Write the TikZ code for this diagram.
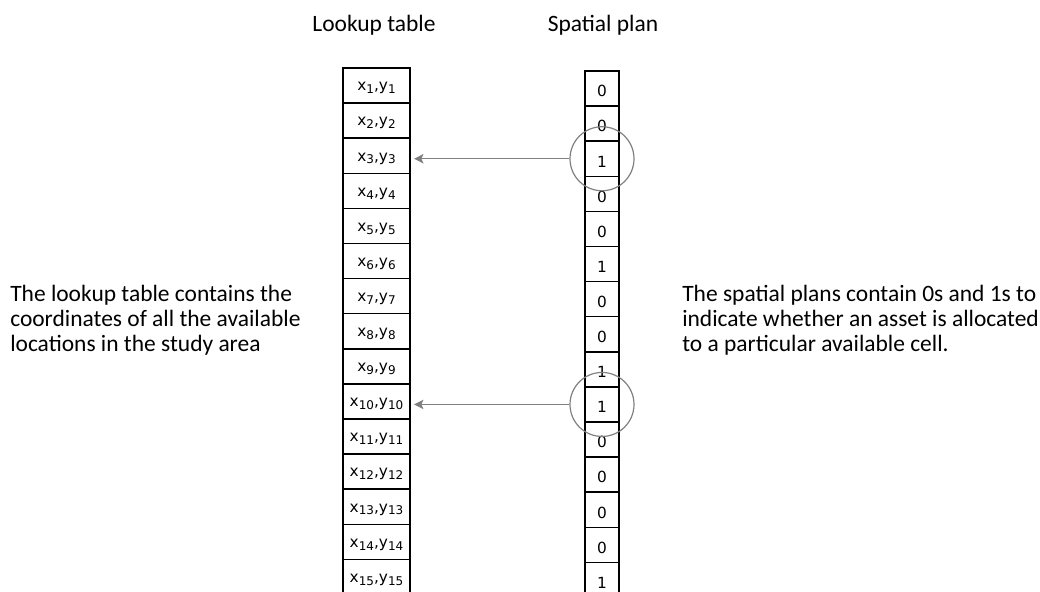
\documentclass[tikz,border=0pt]{standalone}
\usepackage{fontspec}
\setmainfont{Carlito}
\newfontfamily\cellfont{DejaVu Sans}
\usetikzlibrary{arrows.meta}
\definecolor{linkgray}{RGB}{128,128,128}
\newcommand\lowsub[1]{\raisebox{-0.35ex}{\fontsize{9}{10}\selectfont #1}}
\newcommand\celltext[1]{\raisebox{-2pt}[\height][\depth]{#1}}
\tikzset{
  lcell/.style={draw=black, line width=1.1pt, minimum width=50.25pt, minimum height=26.3pt, inner sep=0pt, font=\cellfont\fontsize{11.5}{13}\selectfont},
  scell/.style={draw=black, line width=1.1pt, minimum width=25.5pt, minimum height=26.3pt, inner sep=0pt, font=\cellfont\fontsize{11.5}{13}\selectfont},
  title/.style={font=\fontsize{17.6}{20}\selectfont, inner sep=0pt, anchor=base},
  note/.style={font=\fontsize{17.6}{18.75}\selectfont, align=left, anchor=west, inner sep=0pt},
  ring/.style={circle, draw=linkgray, line width=0.9pt, minimum size=48pt, inner sep=0pt},
  link/.style={draw=linkgray, line width=1pt, -{Stealth[length=7pt,width=7pt,inset=1.5pt]}, shorten >=2.5pt}
}
\begin{document}
\begin{tikzpicture}[x=0.75pt,y=-0.75pt]
\useasboundingbox (0,0) rectangle (1040,592);
\clip (0,0) rectangle (1040,592);
\node[title] (tl) at (374,32) {Lookup table};
\node[title] (ts) at (603,32) {Spatial plan};
\foreach \i in {1,...,15}{
  \node[lcell] (l\i) at (376.5,{68+(\i-0.5)*35.1}) {\celltext{x\lowsub{\i},y\lowsub{\i}}};
}
\foreach \i/\v in {1/0,2/0,3/1,4/0,5/0,6/1,7/0,8/0,9/1,10/1,11/0,12/0,13/0,14/0,15/1}{
  \node[scell] (s\i) at (602,{71+(\i-0.5)*35.1}) {\celltext{\v}};
}
\node[ring] (c1) at (s3) {};
\node[ring] (c2) at (s10) {};
\draw[link] (c1.west) -- (l3.east |- c1.west);
\draw[link] (c2.west) -- (l10.east |- c2.west);
\node[note] (nl) at (10,320) {The lookup table contains the\\coordinates of all the available\\locations in the study area};
\node[note] (nr) at (682,320) {The spatial plans contain 0s and 1s to\\indicate whether an asset is allocated\\to a particular available cell.};
\end{tikzpicture}
\end{document}
